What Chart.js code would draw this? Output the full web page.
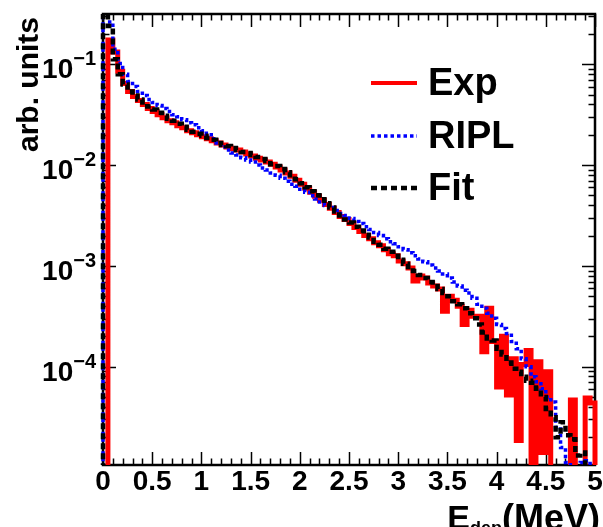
<!DOCTYPE html>
<html>
<head>
<meta charset="utf-8">
<script src="https://cdn.jsdelivr.net/npm/chart.js@4.4.1/dist/chart.umd.min.js"></script>
<style>
  html, body { margin: 0; padding: 0; background: #fff; }
  #wrap { width: 603px; height: 527px; position: relative; }
</style>
</head>
<body>
<div id="wrap"><canvas id="grafico"></canvas></div>
<script>
// bins of 0.05 MeV from 0 to 5 MeV, value of each bin (0 = empty bin)
const binWidth = 0.05;

const expData = [
  0, 0.174, 0.132, 0.085, 0.0646, 0.0537, 0.0479, 0.0437, 0.0398, 0.0363,
  0.0339, 0.0316, 0.0295, 0.0275, 0.0263, 0.0245, 0.0234, 0.0219, 0.0209, 0.0200,
  0.0191, 0.0182, 0.0174, 0.0166, 0.0158, 0.0151, 0.0145, 0.0141, 0.0135, 0.0129,
  0.0123, 0.0117, 0.0112, 0.0107, 0.0102, 0.00955, 0.00891, 0.00832, 0.00776, 0.00708,
  0.00646, 0.00589, 0.00537, 0.00490, 0.00447, 0.00407, 0.00372, 0.00339, 0.00309, 0.00288,
  0.00263, 0.00240, 0.00219, 0.00200, 0.00186, 0.00170, 0.00158, 0.00145, 0.00132, 0.00126,
  0.00112, 0.00105, 9.55e-4, 7.08e-4, 7.94e-4, 7.59e-4, 6.76e-4, 6.31e-4, 5.89e-4, 3.55e-4,
  5.01e-4, 4.57e-4, 3.98e-4, 2.63e-4, 3.63e-4, 3.16e-4, 3.16e-4, 1.41e-4, 3.80e-4, 1.78e-4,
  6.31e-5, 2.00e-4, 5.25e-5, 1.20e-4, 1.86e-5, 1.05e-4, 1.45e-4, 0, 1.12e-4, 1.41e-5,
  8.91e-5, 0, 0, 0, 0, 4.68e-5, 0, 0, 4.90e-5, 4.37e-5
];

const riplData = [
  0.5, 0.263, 0.141, 0.102, 0.0794, 0.0676, 0.0603, 0.0537, 0.0490, 0.0447,
  0.0417, 0.0389, 0.0363, 0.0339, 0.0316, 0.0302, 0.0282, 0.0263, 0.0251, 0.0234,
  0.0219, 0.0200, 0.0182, 0.0166, 0.0151, 0.0141, 0.0132, 0.0126, 0.0118, 0.0112,
  0.0107, 0.0100, 0.00933, 0.00891, 0.00832, 0.00794, 0.00741, 0.00692, 0.00646, 0.00617,
  0.00575, 0.00537, 0.00495, 0.00460, 0.00430, 0.00398, 0.00380, 0.00355, 0.00331, 0.00316,
  0.00295, 0.00275, 0.00263, 0.00245, 0.00229, 0.00214, 0.00200, 0.00186, 0.00174, 0.00166,
  0.00155, 0.00145, 0.00135, 0.00126, 0.00117, 0.00110, 0.00102, 9.55e-4, 8.91e-4, 8.32e-4,
  7.59e-4, 6.92e-4, 6.31e-4, 5.75e-4, 5.37e-4, 4.79e-4, 4.17e-4, 3.80e-4, 3.39e-4, 3.02e-4,
  2.63e-4, 2.40e-4, 2.14e-4, 1.78e-4, 1.51e-4, 1.20e-4, 1.00e-4, 7.94e-5, 7.08e-5, 6.03e-5,
  5.01e-5, 4.47e-5, 2.51e-5, 1.58e-5, 1.12e-5, 0, 0, 1.12e-5, 1.17e-5, 0
];

const fitData = [
  0.5, 0.240, 0.112, 0.0794, 0.0631, 0.0537, 0.0490, 0.0447, 0.0417, 0.0380,
  0.0355, 0.0331, 0.0309, 0.0288, 0.0275, 0.0257, 0.0240, 0.0224, 0.0214, 0.0204,
  0.0195, 0.0186, 0.0178, 0.0166, 0.0158, 0.0155, 0.0148, 0.0141, 0.0135, 0.0132,
  0.0126, 0.0120, 0.0115, 0.0110, 0.0102, 0.00977, 0.00912, 0.00851, 0.00794, 0.00724,
  0.00661, 0.00603, 0.00550, 0.00501, 0.00457, 0.00417, 0.00380, 0.00347, 0.00316, 0.00288,
  0.00269, 0.00245, 0.00224, 0.00204, 0.00191, 0.00174, 0.00162, 0.00148, 0.00138, 0.00126,
  0.00115, 0.00105, 9.77e-4, 8.91e-4, 8.13e-4, 7.59e-4, 6.92e-4, 6.31e-4, 5.89e-4, 5.37e-4,
  5.01e-4, 4.47e-4, 4.17e-4, 3.80e-4, 3.39e-4, 3.02e-4, 2.63e-4, 2.19e-4, 1.91e-4, 1.82e-4,
  1.51e-4, 1.32e-4, 1.10e-4, 9.55e-5, 8.91e-5, 7.94e-5, 7.24e-5, 6.92e-5, 6.03e-5, 5.01e-5,
  3.80e-5, 3.16e-5, 2.00e-5, 2.82e-5, 2.09e-5, 1.91e-5, 1.32e-5, 1.41e-5, 0, 0
];

const xTickLabels = ["0", "0.5", "1", "1.5", "2", "2.5", "3", "3.5", "4", "4.5", "5"];
const yDecades = [1e-1, 1e-2, 1e-3, 1e-4];
const yExponents = ["\u22121", "\u22122", "\u22123", "\u22124"];
const legendLabels = ["Exp", "RIPL", "Fit"];

const xMin = 0, xMax = 5;
const yMin = 1.06e-5, yMax = 0.315;
const ZERO = 1e-7; // empty bins fall below the axis
const FONT = "'Liberation Sans', Arial, Helvetica, sans-serif";

const estilos = [
  { color: "#ff0000", width: 5, dash: [] },
  { color: "#0000ff", width: 3.5, dash: [3.5, 3] },
  { color: "#000000", width: 4.5, dash: [6, 4] }
];


// histogram -> stepped points (bin low edges)
function histo(values) {
  const pts = [{ x: 0, y: ZERO }];
  values.forEach((v, i) => {
    pts.push({ x: +(i * binWidth).toFixed(3), y: v > 0 ? v : ZERO });
  });
  const last = values[values.length - 1];
  pts.push({ x: xMax, y: last > 0 ? last : ZERO });
  pts.push({ x: xMax, y: ZERO });
  return pts;
}

function dataset(label, values, st, order) {
  return {
    label,
    data: histo(values),
    borderColor: st.color,
    borderWidth: st.width,
    borderDash: st.dash,
    stepped: true,
    pointRadius: 0,
    fill: false,
    order,
    clip: { left: 3, right: 3, top: 0, bottom: 0 }
  };
}


// frame + ticks (ROOT style, inward on all four sides)
const pluginFrame = {
  id: "frame",
  beforeDatasetsDraw(chart) {
    const { ctx, chartArea: a } = chart;
    const sx = chart.scales.x, sy = chart.scales.y;
    ctx.save();
    ctx.strokeStyle = "#000";
    ctx.lineWidth = 1.5;
    ctx.beginPath();
    for (let i = 0; i <= 50; i++) {
      const px = Math.round(sx.getPixelForValue(i * 0.1)) + 0.5;
      const len = i % 5 === 0 ? 13 : 6.5;
      ctx.moveTo(px, a.bottom); ctx.lineTo(px, a.bottom - len);
      ctx.moveTo(px, a.top); ctx.lineTo(px, a.top + len);
    }
    for (let e = -5; e <= 0; e++) {
      for (let m = 1; m <= 9; m++) {
        const v = m * Math.pow(10, e);
        if (v < yMin || v > yMax) continue;
        const py = Math.round(sy.getPixelForValue(v)) + 0.5;
        const len = m === 1 ? 13 : 6.5;
        ctx.moveTo(a.left, py); ctx.lineTo(a.left + len, py);
        ctx.moveTo(a.right, py); ctx.lineTo(a.right - len, py);
      }
    }
    ctx.stroke();
    ctx.lineWidth = 2.5;
    ctx.strokeRect(a.left, a.top, a.right - a.left, a.bottom - a.top);
    ctx.restore();
  },
  afterDraw(chart) {
    const { ctx } = chart;
    const sx = chart.scales.x, sy = chart.scales.y;
    ctx.save();
    ctx.fillStyle = "#000";

    // x tick labels
    ctx.font = "bold 28px " + FONT;
    ctx.textAlign = "center";
    ctx.textBaseline = "alphabetic";
    xTickLabels.forEach(t => {
      ctx.fillText(t, sx.getPixelForValue(Number(t)), 490);
    });

    // y tick labels 10^-n
    yDecades.forEach((v, i) => {
      const py = sy.getPixelForValue(v);
      ctx.font = "bold 20px " + FONT;
      const w2 = ctx.measureText(yExponents[i]).width;
      const xr = 96 - w2;
      ctx.textAlign = "left";
      ctx.fillText(yExponents[i], xr, py + 1);
      ctx.font = "bold 28px " + FONT;
      ctx.textAlign = "right";
      ctx.fillText("10", xr, py + 14);
    });

    // y title
    ctx.save();
    ctx.translate(38, 17);
    ctx.rotate(-Math.PI / 2);
    ctx.font = "bold 30px " + FONT;
    ctx.textAlign = "right";
    ctx.fillText("arb. units", 0, 0);
    ctx.restore();

    // x title E_dep(MeV), right aligned
    ctx.textAlign = "left";
    ctx.font = "bold 36px " + FONT;
    const wUnit = ctx.measureText("(MeV)").width;
    const xUnit = 600 - wUnit;
    ctx.fillText("(MeV)", xUnit, 530);
    ctx.font = "bold 18px " + FONT;
    const wSub = ctx.measureText("dep").width;
    ctx.fillText("dep", xUnit - wSub, 534);
    ctx.font = "bold 34px " + FONT;
    const wE = ctx.measureText("E").width;
    ctx.fillText("E", xUnit - wSub - wE, 529);

    // legend
    const rows = [83, 136, 188];
    legendLabels.forEach((lab, i) => {
      const st = estilos[i];
      ctx.strokeStyle = st.color;
      ctx.lineWidth = i === 0 ? 4 : st.width;
      ctx.setLineDash(st.dash);
      ctx.beginPath();
      ctx.moveTo(371, rows[i]);
      ctx.lineTo(417, rows[i]);
      ctx.stroke();
      ctx.setLineDash([]);
      ctx.font = "bold 38px " + FONT;
      ctx.textAlign = "left";
      ctx.fillText(lab, 428, rows[i] + 12);
    });
    ctx.restore();
  }
};


const grafico = new Chart(document.getElementById("grafico"), {
  type: "line",
  data: {
    datasets: [
      dataset(legendLabels[0], expData, estilos[0], 3),
      dataset(legendLabels[1], riplData, estilos[1], 2),
      dataset(legendLabels[2], fitData, estilos[2], 1)
    ]
  },
  options: {
    animation: false,
    responsive: true,
    maintainAspectRatio: false,
    layout: { padding: { left: 103, right: 8, top: 14, bottom: 62 } },
    plugins: { legend: { display: false }, tooltip: { enabled: false } },
    scales: {
      x: { type: "linear", min: xMin, max: xMax, display: false },
      y: { type: "logarithmic", min: yMin, max: yMax, display: false }
    }
  },
  plugins: [pluginFrame]
});
</script>
</body>
</html>
